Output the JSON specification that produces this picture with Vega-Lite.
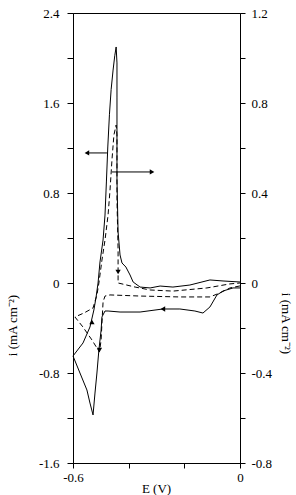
{
  "$schema": "https://vega.github.io/schema/vega-lite/v6.json",
  "width": 167,
  "height": 450,
  "autosize": "none",
  "padding": {"left": 73, "top": 13, "right": 56, "bottom": 32},
  "background": "white",
  "config": {
    "view": {"stroke": "black", "strokeWidth": 1},
    "font": "Liberation Serif",
    "axis": {
      "grid": false,
      "domainColor": "black",
      "tickColor": "black",
      "labelColor": "black",
      "titleColor": "black",
      "labelFont": "Liberation Serif",
      "titleFont": "Liberation Serif",
      "labelFontSize": 13,
      "titleFontSize": 13,
      "titleFontWeight": "normal",
      "labelFlush": false,
      "labelOverlap": false,
      "labelBound": false
    }
  },
  "datasets": {
    "solid": [
      {"k": 1, "E": 0, "i": -0.044},
      {"k": 2, "E": -0.025, "i": -0.044},
      {"k": 3, "E": -0.061, "i": -0.071},
      {"k": 4, "E": -0.083, "i": -0.107},
      {"k": 5, "E": -0.108, "i": -0.213},
      {"k": 6, "E": -0.133, "i": -0.267},
      {"k": 7, "E": -0.162, "i": -0.249},
      {"k": 8, "E": -0.216, "i": -0.231},
      {"k": 9, "E": -0.277, "i": -0.231},
      {"k": 10, "E": -0.359, "i": -0.258},
      {"k": 11, "E": -0.431, "i": -0.258},
      {"k": 12, "E": -0.474, "i": -0.249},
      {"k": 13, "E": -0.485, "i": -0.249},
      {"k": 14, "E": -0.496, "i": -0.302},
      {"k": 15, "E": -0.499, "i": -0.418},
      {"k": 16, "E": -0.507, "i": -0.596},
      {"k": 17, "E": -0.514, "i": -0.8},
      {"k": 18, "E": -0.521, "i": -0.978},
      {"k": 19, "E": -0.528, "i": -1.173},
      {"k": 20, "E": -0.539, "i": -1.067},
      {"k": 21, "E": -0.55, "i": -0.951},
      {"k": 22, "E": -0.575, "i": -0.8},
      {"k": 23, "E": -0.6, "i": -0.649},
      {"k": 24, "E": -0.564, "i": -0.533},
      {"k": 25, "E": -0.539, "i": -0.391},
      {"k": 26, "E": -0.525, "i": -0.24},
      {"k": 27, "E": -0.517, "i": -0.124},
      {"k": 28, "E": -0.51, "i": 0},
      {"k": 29, "E": -0.503, "i": 0.187},
      {"k": 30, "E": -0.492, "i": 0.382},
      {"k": 31, "E": -0.485, "i": 0.604},
      {"k": 32, "E": -0.48, "i": 0.898},
      {"k": 33, "E": -0.475, "i": 1.209},
      {"k": 34, "E": -0.469, "i": 1.5},
      {"k": 35, "E": -0.463, "i": 1.72},
      {"k": 36, "E": -0.456, "i": 1.893},
      {"k": 37, "E": -0.45, "i": 2.02},
      {"k": 38, "E": -0.445, "i": 2.098},
      {"k": 39, "E": -0.442, "i": 1.956},
      {"k": 40, "E": -0.442, "i": 1.653},
      {"k": 41, "E": -0.442, "i": 1.36},
      {"k": 42, "E": -0.442, "i": 0.916},
      {"k": 43, "E": -0.438, "i": 0.453},
      {"k": 44, "E": -0.431, "i": 0.249},
      {"k": 45, "E": -0.424, "i": 0.178},
      {"k": 46, "E": -0.41, "i": 0.142},
      {"k": 47, "E": -0.395, "i": 0.071},
      {"k": 48, "E": -0.384, "i": 0.009},
      {"k": 49, "E": -0.359, "i": -0.036},
      {"k": 50, "E": -0.323, "i": -0.044},
      {"k": 51, "E": -0.287, "i": -0.027},
      {"k": 52, "E": -0.241, "i": -0.036},
      {"k": 53, "E": -0.18, "i": -0.018},
      {"k": 54, "E": -0.108, "i": 0.027},
      {"k": 55, "E": -0.061, "i": 0.018},
      {"k": 56, "E": 0, "i": 0.009}
    ],
    "dashed": [
      {"k": 1, "E": 0, "i": -0.013},
      {"k": 2, "E": -0.036, "i": -0.022},
      {"k": 3, "E": -0.072, "i": -0.044},
      {"k": 4, "E": -0.108, "i": -0.062},
      {"k": 5, "E": -0.216, "i": -0.062},
      {"k": 6, "E": -0.359, "i": -0.058},
      {"k": 7, "E": -0.467, "i": -0.053},
      {"k": 8, "E": -0.485, "i": -0.058},
      {"k": 9, "E": -0.492, "i": -0.084},
      {"k": 10, "E": -0.496, "i": -0.178},
      {"k": 11, "E": -0.499, "i": -0.253},
      {"k": 12, "E": -0.505, "i": -0.307},
      {"k": 13, "E": -0.532, "i": -0.253},
      {"k": 14, "E": -0.564, "i": -0.196},
      {"k": 15, "E": -0.593, "i": -0.151},
      {"k": 16, "E": -0.56, "i": -0.133},
      {"k": 17, "E": -0.528, "i": -0.111},
      {"k": 18, "E": -0.514, "i": -0.053},
      {"k": 19, "E": -0.507, "i": 0},
      {"k": 20, "E": -0.496, "i": 0.102},
      {"k": 21, "E": -0.485, "i": 0.191},
      {"k": 22, "E": -0.474, "i": 0.302},
      {"k": 23, "E": -0.467, "i": 0.413},
      {"k": 24, "E": -0.46, "i": 0.547},
      {"k": 25, "E": -0.453, "i": 0.658},
      {"k": 26, "E": -0.445, "i": 0.702},
      {"k": 27, "E": -0.442, "i": 0.658},
      {"k": 28, "E": -0.442, "i": 0.369},
      {"k": 29, "E": -0.438, "i": 0.147},
      {"k": 30, "E": -0.438, "i": 0.049},
      {"k": 31, "E": -0.438, "i": 0},
      {"k": 32, "E": -0.424, "i": -0.004},
      {"k": 33, "E": -0.377, "i": -0.018},
      {"k": 34, "E": -0.323, "i": -0.031},
      {"k": 35, "E": -0.241, "i": -0.036},
      {"k": 36, "E": -0.119, "i": -0.022},
      {"k": 37, "E": -0.036, "i": -0.004},
      {"k": 38, "E": 0, "i": 0}
    ],
    "solidHeads": [
      {"E": -0.277, "i": -0.231, "dir": "left"},
      {"E": -0.532, "i": -0.347, "dir": "up"},
      {"E": -0.55, "i": 1.156, "dir": "left"},
      {"E": -0.316, "i": 0.987, "dir": "right"}
    ],
    "dashedHeads": [
      {"E": -0.438, "i": 0.049, "dir": "down"},
      {"E": -0.505, "i": -0.298, "dir": "down"}
    ],
    "ann": [
      {"E": -0.478, "E2": -0.548, "i": 1.156},
      {"E": -0.46, "E2": -0.318, "i": 0.987}
    ]
  },
  "layer": [
    {
      "encoding": {
        "x": {
          "field": "E", "type": "quantitative",
          "scale": {"domain": [-0.6, 0], "nice": false, "zero": false},
          "axis": {
            "title": "E (V)",
            "values": [-0.6, -0.5, -0.4, -0.3, -0.2, -0.1, 0],
            "labelExpr": "(datum.value == -0.6 || datum.value == -0.3 || datum.value == 0) ? '' + datum.value : ''",
            "tickSize": 5,
            "labelPadding": 3,
            "titleX": 83,
            "titleY": 19,
            "titleBaseline": "top"
          }
        },
        "y": {
          "field": "i", "type": "quantitative",
          "scale": {"domain": [-1.6, 2.4], "nice": false, "zero": false},
          "axis": {
            "orient": "left",
            "title": "i (mA cm⁻²)",
            "values": [-1.6, -1.2, -0.8, -0.4, 0, 0.4, 0.8, 1.2, 1.6, 2.0, 2.4],
            "labelExpr": "(datum.value == -1.6 || datum.value == -0.8 || datum.value == 0 || datum.value == 0.8 || datum.value == 1.6 || datum.value == 2.4) ? '' + datum.value : ''",
            "tickSize": 6,
            "labelPadding": 8,
            "titleAngle": 270,
            "titleX": -61,
            "titleY": 312,
            "titleBaseline": "middle",
            "titleAlign": "center"
          }
        }
      },
      "layer": [
        {
          "data": {"name": "solid"},
          "mark": {"type": "line", "color": "black", "strokeWidth": 1},
          "encoding": {"order": {"field": "k", "type": "quantitative"}}
        },
        {
          "data": {"name": "ann"},
          "mark": {"type": "rule", "color": "black", "strokeWidth": 1},
          "encoding": {"x2": {"field": "E2"}}
        },
        {
          "data": {"name": "solidHeads"},
          "mark": {"type": "point", "filled": true, "color": "black", "opacity": 1, "size": 28},
          "encoding": {
            "shape": {
              "field": "dir", "type": "nominal",
              "scale": {"domain": ["left", "right", "up", "down"], "range": ["triangle-left", "triangle-right", "triangle-up", "triangle-down"]},
              "legend": null
            }
          }
        }
      ]
    },
    {
      "encoding": {
        "x": {"field": "E", "type": "quantitative", "scale": {"domain": [-0.6, 0], "nice": false, "zero": false}},
        "y": {
          "field": "i", "type": "quantitative",
          "scale": {"domain": [-0.8, 1.2], "nice": false, "zero": false},
          "axis": {
            "orient": "right",
            "title": "i (mA cm⁻²)",
            "values": [-0.8, -0.6, -0.4, -0.2, 0, 0.2, 0.4, 0.6, 0.8, 1.0, 1.2],
            "labelExpr": "(datum.value == -0.8 || datum.value == -0.4 || datum.value == 0 || datum.value == 0.4 || datum.value == 0.8 || datum.value == 1.2) ? '' + datum.value : ''",
            "tickSize": 5,
            "labelPadding": 6,
            "titleAngle": 90,
            "titleX": 45,
            "titleY": 310,
            "titleBaseline": "middle",
            "titleAlign": "center"
          }
        }
      },
      "layer": [
        {
          "data": {"name": "dashed"},
          "mark": {"type": "line", "color": "black", "strokeWidth": 1, "strokeDash": [5, 3]},
          "encoding": {"order": {"field": "k", "type": "quantitative"}}
        },
        {
          "data": {"name": "dashedHeads"},
          "mark": {"type": "point", "filled": true, "color": "black", "opacity": 1, "size": 28},
          "encoding": {
            "shape": {
              "field": "dir", "type": "nominal",
              "scale": {"domain": ["left", "right", "up", "down"], "range": ["triangle-left", "triangle-right", "triangle-up", "triangle-down"]},
              "legend": null
            }
          }
        }
      ]
    }
  ],
  "resolve": {"scale": {"y": "independent"}}
}
